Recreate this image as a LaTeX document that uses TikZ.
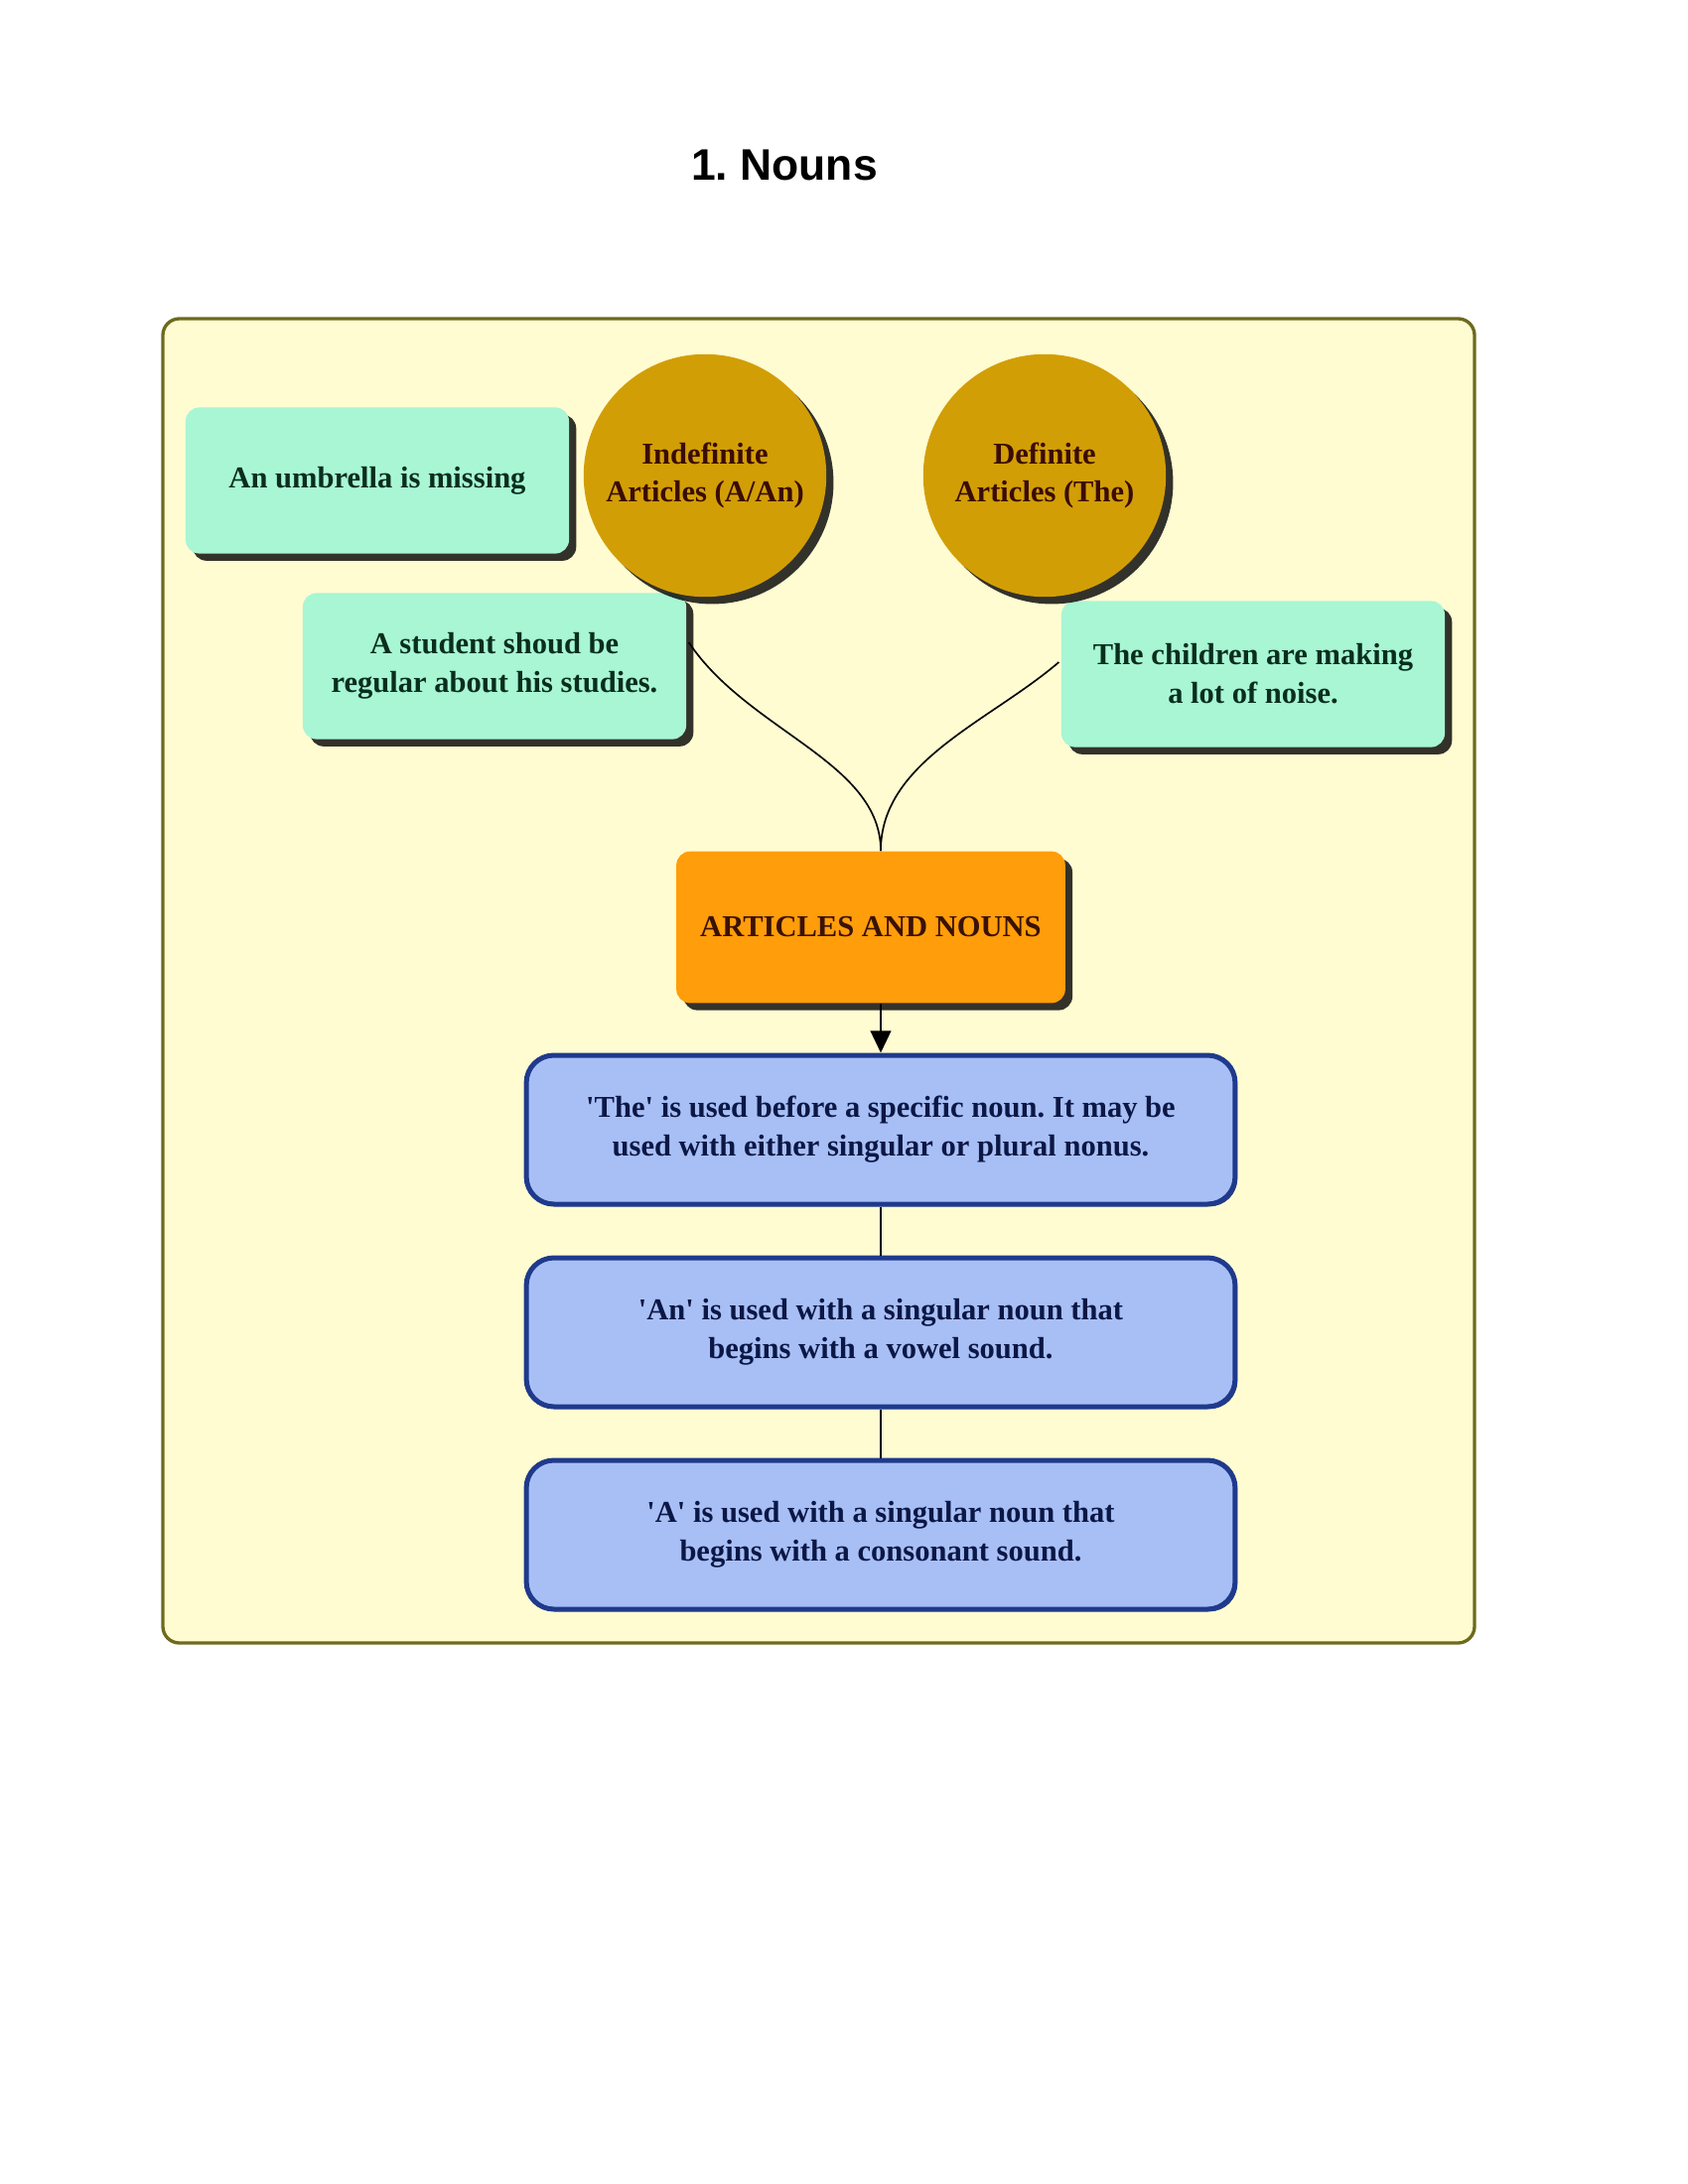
\documentclass[tikz,border=0pt]{standalone}
\usepackage{fontspec}
\setmainfont{Liberation Serif}
\newfontfamily\titlefont{Liberation Sans}
\usetikzlibrary{shadows,arrows.meta,calc}
\definecolor{framefill}{HTML}{FFFCD2}
\definecolor{framedraw}{HTML}{6E6A1E}
\definecolor{tealfill}{HTML}{A8F6D4}
\definecolor{tealtext}{HTML}{0A2E1E}
\definecolor{goldfill}{HTML}{D29E06}
\definecolor{goldtext}{HTML}{3A0C02}
\definecolor{orangefill}{HTML}{FF9D0A}
\definecolor{orangetext}{HTML}{3A1204}
\definecolor{bluefill}{HTML}{A8BFF6}
\definecolor{bluedraw}{HTML}{1F3A8C}
\definecolor{bluetext}{HTML}{0B1745}
\newcommand{\sq}{\textquotesingle}
\tikzset{
  dshadow/.style={drop shadow={shadow xshift=2.6pt, shadow yshift=-2.6pt, fill=black, opacity=0.8}},
  tealbox/.style={rectangle, rounded corners=5pt, fill=tealfill, dshadow, minimum width=139pt, minimum height=53pt, align=center, text=tealtext, font=\bfseries\fontsize{11}{14}\selectfont},
  goldcircle/.style={circle, fill=goldfill, dshadow, minimum size=88pt, inner sep=0pt, align=center, text=goldtext, font=\bfseries\fontsize{11}{14}\selectfont},
  orangebox/.style={rectangle, rounded corners=5pt, fill=orangefill, dshadow, minimum width=141pt, minimum height=55pt, align=center, text=orangetext, font=\bfseries\fontsize{11}{14}\selectfont},
  bluebox/.style={rectangle, rounded corners=10pt, fill=bluefill, draw=bluedraw, line width=1.8pt, minimum width=257pt, minimum height=54pt, align=center, text=bluetext, font=\bfseries\fontsize{11}{14}\selectfont,
    drop shadow={shadow xshift=0.8pt, shadow yshift=-0.8pt, fill=bluedraw!70!black, opacity=0.9}},
  conn/.style={draw=black, line width=0.6pt},
}
\begin{document}
\frenchspacing
\begin{tikzpicture}[x=0.36pt, y=-0.36pt]
\useasboundingbox[fill=white] (0,0) rectangle (1700,2200);
\node[font=\titlefont\bfseries\fontsize{16}{19}\selectfont] (title) at (790,166) {1. Nouns};
\draw[framedraw, fill=framefill, line width=1.2pt, rounded corners=6pt] (164,321) rectangle (1485,1655);
\node[tealbox] (umb) at (380,484) {An umbrella is missing};
\node[tealbox] (stu) at (498,671) {A student shoud be\\regular about his studies.};
\node[tealbox] (chi) at (1262,679) {The children are making\\a lot of noise.};
\node[goldcircle] (indef) at (710,479) {Indefinite\\Articles (A/An)};
\node[goldcircle] (def) at (1052,479) {Definite\\Articles (The)};
\node[orangebox] (art) at (877,934) {ARTICLES AND NOUNS};
\node[bluebox] (b1) at (887,1138) {\sq The\sq{} is used before a specific noun. It may be\\used with either singular or plural nonus.};
\node[bluebox] (b2) at (887,1342) {\sq An\sq{} is used with a singular noun that\\begins with a vowel sound.};
\node[bluebox] (b3) at (887,1546) {\sq A\sq{} is used with a singular noun that\\begins with a consonant sound.};
\coordinate (top) at (art.north -| b1.north);
\coordinate (bot) at (art.south -| b1.north);
\coordinate (lend) at ($(stu.east)+(2,-24)$);
\coordinate (rend) at ($(chi.west)+(-2,-12)$);
\draw[conn] (top) .. controls ($(top)+(0,-90)$) and ($(lend)+(60,90)$) .. (lend);
\draw[conn] (top) .. controls ($(top)+(0,-90)$) and ($(rend)+(-70,60)$) .. (rend);
\draw[conn, -{Triangle[length=8pt,width=7.5pt]}] (bot) -- (b1.north);
\draw[conn] (b1.south) -- (b2.north);
\draw[conn] (b2.south) -- (b3.north);
\end{tikzpicture}
\end{document}
